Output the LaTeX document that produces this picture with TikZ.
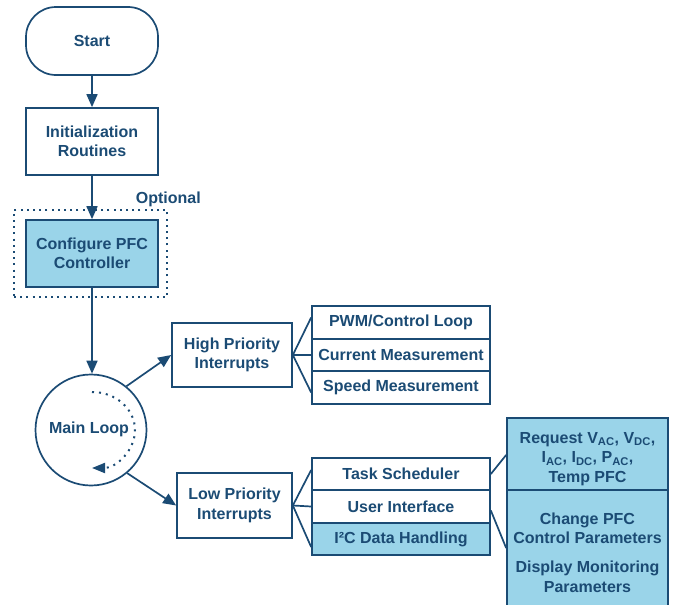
\documentclass[tikz,border=0pt]{standalone}
\usepackage{fontspec}
\setmainfont{Liberation Sans}
\usetikzlibrary{arrows.meta}
\definecolor{navy}{HTML}{1B4B74}
\definecolor{lblue}{HTML}{9AD4E9}
\tikzset{
  base/.style={draw=navy, line width=1.7pt, text=navy, align=center, inner sep=0pt,
    font=\fontsize{16}{19.5}\selectfont\bfseries},
  rowbox/.style={base, minimum width=178pt, minimum height=32.5pt},
  lbl/.style={text=navy, align=center, inner sep=0pt, font=\fontsize{16}{19.5}\selectfont\bfseries},
  arr/.style={draw=navy, line width=1.7pt, -{Triangle[length=13pt,width=11pt]}},
  fan/.style={draw=navy, line width=1.7pt}
}
\begin{document}
\begin{tikzpicture}[x=1pt,y=-1pt]
\useasboundingbox (0,0) rectangle (675,605);
\clip (0,0) rectangle (675,605);
% left column
\node[base, minimum width=132pt, minimum height=68pt, rounded corners=30pt] (start) at (92,41) {Start};
\node[base, minimum width=132pt, minimum height=67pt] (init) at (92,141.5) {Initialization\\Routines};
\node[draw=navy, line width=2pt, dash pattern=on 2pt off 4.2pt, minimum width=153pt, minimum height=87pt, inner sep=0pt] (opt) at (90.5,253.5) {};
\node[lbl, anchor=south east] (optlbl) at (opt.north east) [yshift=2pt, xshift=33pt] {Optional};
\node[base, fill=lblue, minimum width=132pt, minimum height=67pt] (config) at (92,253.5) {Configure PFC\\Controller};
\node[base, circle, minimum size=111pt] (loop) at (91,430) {};
\node[lbl] (looplbl) at (89,429) {Main Loop};
\draw[draw=navy, line width=2pt, dash pattern=on 2pt off 5pt, -{Triangle[length=13pt,width=10pt]}]
  (92,392) arc[start angle=-90, end angle=90, x radius=43, y radius=38];
% high priority
\node[base, minimum width=120pt, minimum height=64pt] (high) at (232,355) {High Priority\\Interrupts};
\node[rowbox] (pwm) at (401,322.5) {PWM/Control Loop};
\node[rowbox] (cur) at (401,355) {Current Measurement};
\node[rowbox] (spd) at (401,387.5) {Speed Measurement};
% low priority
\node[base, minimum width=115pt, minimum height=65pt] (low) at (234.5,505.5) {Low Priority\\Interrupts};
\node[rowbox] (task) at (401,474) {Task Scheduler};
\node[rowbox] (ui) at (401,506.5) {User Interface};
\node[rowbox, fill=lblue] (i2c) at (401,539) {I²C Data Handling};
% right box
\node[base, fill=lblue, minimum width=161pt, minimum height=72pt] (req) at (587.5,454) {};
\node[lbl] (reqlbl) at (587.5,459)
  {Request V\textsubscript{AC}, V\textsubscript{DC},\\I\textsubscript{AC}, I\textsubscript{DC}, P\textsubscript{AC},\\Temp PFC};
\node[base, fill=lblue, minimum width=161pt, minimum height=130pt] (ctrl) at (587.5,555) {};
\node[lbl] (chg) at (587.5,528.5) {Change PFC\\Control Parameters};
\node[lbl] (disp) at (587.5,577) {Display Monitoring\\Parameters};
% connectors
\draw[arr] (start) -- (init);
\draw[arr] (init) -- (config);
\draw[arr] (config.south) -- (config.south |- loop.north);
\draw[arr] (loop.51) -- (high.west);
\draw[arr] (loop.-50) -- (low.west);
\draw[fan] (high.east) -- ([yshift=5pt]pwm.west);
\draw[fan] (high.east) -- (cur.west);
\draw[fan] (high.east) -- ([yshift=-5pt]spd.west);
\draw[fan] (low.east) -- ([yshift=4pt]task.west);
\draw[fan] (low.east) -- (ui.west);
\draw[fan] (low.east) -- ([yshift=-8pt]i2c.west);
\draw[fan] (task.east) -- (req.west |- 0,455);
\draw[fan] ([yshift=-4pt]ui.east) -- (ctrl.west |- 0,548);
\end{tikzpicture}
\end{document}
